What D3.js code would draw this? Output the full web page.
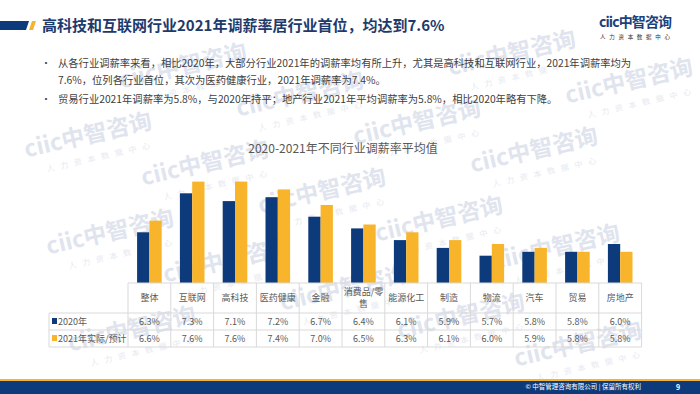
<!DOCTYPE html>
<html>
<head>
<meta charset="utf-8">
<script src="https://cdn.jsdelivr.net/npm/d3@7"></script>
<style>
  body { margin: 0; background: #fff; }
  svg { display: block; font-family: 'Noto Sans CJK SC', 'Noto Sans', sans-serif; }
</style>
</head>
<body>
<div id="slide"></div>
<script>
// chart values
var categories = ['整体', '互联网', '高科技', '医药健康', '金融', '消费品/零售', '能源化工', '制造', '物流', '汽车', '贸易', '房地产']
var seriesNames = ['2020年', '2021年实际/预计']
var values2020 = [6.3, 7.3, 7.1, 7.2, 6.7, 6.4, 6.1, 5.9, 5.7, 5.8, 5.8, 6.0]
var values2021 = [6.6, 7.6, 7.6, 7.4, 7.0, 6.5, 6.3, 6.1, 6.0, 5.9, 5.8, 5.8]
var yDomain = [5, 8]

var pageTitle = '高科技和互联网行业2021年调薪率居行业首位，均达到7.6%'
var chartTitle = '2020-2021年不同行业调薪率平均值'
var bullets = [
    ['从各行业调薪率来看，相比2020年，大部分行业2021年的调薪率均有所上升，尤其是高科技和互联网行业，2021年调薪率均为',
     '7.6%，位列各行业首位，其次为医药健康行业，2021年调薪率为7.4%。'],
    ['贸易行业2021年调薪率为5.8%，与2020年持平；地产行业2021年平均调薪率为5.8%，相比2020年略有下降。']
]

var width = 700
var height = 394
var colors = ['#0c3a7a', '#f8b52b']
var navy = '#1d3a6c'
var tableFont = 9

var svg = d3.select('#slide')
    .append('svg')
    .attr('width', width)
    .attr('height', height)

// watermarks (drawn first, very faint)
var origin = [205, 163]
var va = [117, 28]
var vb = [95, -69]
var marks = []
for (var m = -4; m <= 6; m++) {
    for (var n = -4; n <= 4; n++) {
        var px = origin[0] + m * va[0] + n * vb[0]
        var py = origin[1] + m * va[1] + n * vb[1]
        if (px > 68 && px < 630 && py > 30 && py < 345) marks.push([px, py])
    }
}
var wm = svg.append('g').attr('pointer-events', 'none')
marks.forEach(function (p) {
    var g = wm.append('g').attr('transform', 'translate(' + p[0] + ',' + p[1] + ')rotate(-13)')
    g.append('text')
        .attr('text-anchor', 'middle')
        .attr('y', 8)
        .attr('font-size', 23)
        .attr('font-weight', 'bold')
        .attr('fill', '#dfe4ee')
        .text('ciic中智咨询')
    g.append('text')
        .attr('text-anchor', 'middle')
        .attr('x', 8)
        .attr('y', 27)
        .attr('font-size', 8)
        .attr('letter-spacing', 6)
        .attr('fill', '#e6e9f0')
        .text('人力资本数据中心')
})

// header
svg.append('path')
    .attr('d', 'M0,21 L29,21 L26,30 L0,30 Z')
    .attr('fill', '#0c3a7a')
svg.append('path')
    .attr('d', 'M32,21 L36,21 L33,30 L29,30 Z')
    .attr('fill', '#f6b42c')

svg.append('text')
    .attr('x', 42)
    .attr('y', 30.5)
    .attr('font-size', 15)
    .attr('font-weight', 'bold')
    .attr('fill', navy)
    .text(pageTitle)

// logo
svg.append('text')
    .attr('x', 599)
    .attr('y', 27)
    .attr('font-size', 14)
    .attr('font-weight', 'bold')
    .attr('fill', '#1d3f7c')
    .attr('textLength', 73)
    .text('ciic中智咨询')
svg.append('text')
    .attr('x', 600)
    .attr('y', 39)
    .attr('font-size', 5.5)
    .attr('fill', '#333')
    .attr('textLength', 70)
    .text('人力资本数据中心')

// bullet points
var lineY = [63, 80, 99]
var li = 0
bullets.forEach(function (b) {
    svg.append('text')
        .attr('x', 41)
        .attr('y', lineY[li] + 4)
        .attr('font-size', 10)
        .attr('fill', '#404040')
        .text('•')
    b.forEach(function (line) {
        svg.append('text')
            .attr('x', 58)
            .attr('y', lineY[li] + 4)
            .attr('font-size', 10.3)
            .attr('fill', '#404040')
            .text(line)
        li++
    })
})

// chart title
svg.append('text')
    .attr('x', 343)
    .attr('y', 153)
    .attr('text-anchor', 'middle')
    .attr('font-size', 12)
    .attr('fill', '#595959')
    .text(chartTitle)

// scales
var xScale = d3.scaleBand()
    .domain(categories)
    .range([128, 641.6])

var pairWidth = 24.6
var x1 = d3.scaleBand()
    .domain(seriesNames)
    .range([0, pairWidth])

var yScale = d3.scaleLinear()
    .domain(yDomain)
    .range([283, 166])

var rows = [values2020, values2021]

var groups = svg.selectAll('g.series')
    .data(rows)
    .enter()
    .append('g')
    .attr('class', 'series')
    .attr('fill', (d, i) => colors[i])

groups.each(function (vals, i) {
    d3.select(this).selectAll('rect')
        .data(vals)
        .enter()
        .append('rect')
        .attr('x', (d, j) => xScale(categories[j]) + (xScale.bandwidth() - pairWidth) / 2 + x1(seriesNames[i]))
        .attr('y', (d) => yScale(d))
        .attr('width', x1.bandwidth())
        .attr('height', (d) => yScale(yDomain[0]) - yScale(d))
})

// data table
var tableTop = 283
var headerBottom = 313
var rowH = 17
var labelLeft = 49
var tableRight = xScale.range()[1]
var grid = '#d9d9d9'
var table = svg.append('g').attr('stroke', grid).attr('stroke-width', 1)

table.append('line').attr('x1', xScale.range()[0]).attr('x2', tableRight).attr('y1', tableTop).attr('y2', tableTop)
for (var r = 0; r <= 2; r++) {
    table.append('line')
        .attr('x1', labelLeft).attr('x2', tableRight)
        .attr('y1', headerBottom + r * rowH).attr('y2', headerBottom + r * rowH)
}
table.append('line').attr('x1', labelLeft).attr('x2', labelLeft).attr('y1', headerBottom).attr('y2', headerBottom + 2 * rowH)
categories.concat(['end']).forEach(function (c, j) {
    var xv = xScale.range()[0] + j * xScale.bandwidth()
    table.append('line').attr('x1', xv).attr('x2', xv).attr('y1', tableTop).attr('y2', headerBottom + 2 * rowH)
})

// header labels with wrapping
categories.forEach(function (c) {
    var cx = xScale(c) + xScale.bandwidth() / 2
    var t = svg.append('text')
        .attr('x', cx)
        .attr('text-anchor', 'middle')
        .attr('font-size', tableFont)
        .attr('fill', '#595959')
    var lines = []
    var cur = ''
    var probe = svg.append('text').attr('font-size', tableFont)
    c.split('').forEach(function (ch) {
        probe.text(cur + ch)
        if (probe.node().getComputedTextLength() > xScale.bandwidth() - 1 && cur) {
            lines.push(cur)
            cur = ch
        } else {
            cur += ch
        }
    })
    lines.push(cur)
    probe.remove()
    var mid = (tableTop + headerBottom) / 2 + 3
    lines.forEach(function (l, k) {
        t.append('tspan')
            .attr('x', cx)
            .attr('y', mid + (k - (lines.length - 1) / 2) * 11.5)
            .text(l)
    })
})

// value rows and legend keys
rows.forEach(function (vals, i) {
    var yMid = headerBottom + i * rowH + rowH / 2
    svg.append('rect')
        .attr('x', 52)
        .attr('y', yMid - 3.5)
        .attr('width', 5)
        .attr('height', 6)
        .attr('fill', colors[i])
    svg.append('text')
        .attr('x', 58)
        .attr('y', yMid + 3.5)
        .attr('font-size', tableFont)
        .attr('fill', '#595959')
        .text(seriesNames[i])
    svg.selectAll(null)
        .data(vals)
        .enter()
        .append('text')
        .attr('x', (d, j) => xScale(categories[j]) + xScale.bandwidth() / 2)
        .attr('y', yMid + 3.5)
        .attr('text-anchor', 'middle')
        .attr('font-size', tableFont)
        .attr('fill', '#595959')
        .text((d) => d.toFixed(1) + '%')
})

// footer
svg.append('rect').attr('x', 0).attr('y', 379).attr('width', width).attr('height', 2).attr('fill', '#f6b42c')
svg.append('rect').attr('x', 0).attr('y', 381).attr('width', width).attr('height', 13).attr('fill', '#0c3a7a')
svg.append('text')
    .attr('x', 641)
    .attr('y', 389)
    .attr('text-anchor', 'end')
    .attr('font-size', 6.5)
    .attr('fill', '#fff')
    .text('© 中智管理咨询有限公司 | 保留所有权利')
svg.append('text')
    .attr('x', 678)
    .attr('y', 389.5)
    .attr('text-anchor', 'middle')
    .attr('font-size', 7)
    .attr('font-weight', 'bold')
    .attr('fill', '#fff')
    .text('9')
</script>
</body>
</html>
